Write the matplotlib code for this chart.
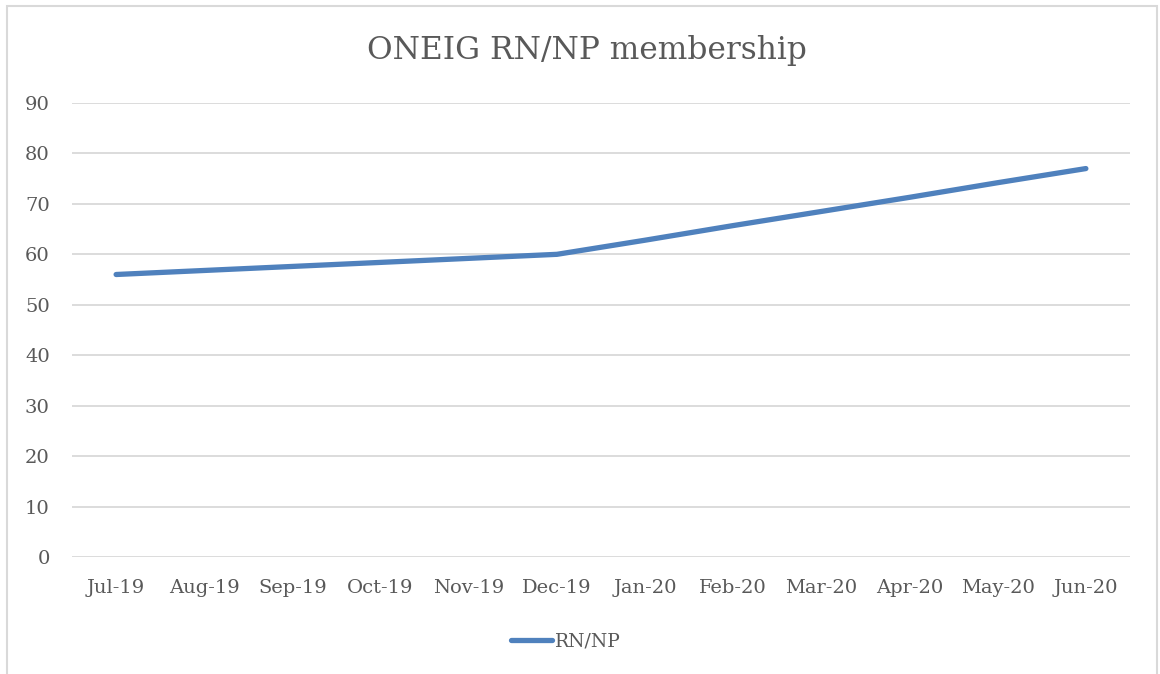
import matplotlib.pyplot as plt
from matplotlib.patches import Rectangle

# data
months = ['Jul-19', 'Aug-19', 'Sep-19', 'Oct-19', 'Nov-19', 'Dec-19',
          'Jan-20', 'Feb-20', 'Mar-20', 'Apr-20', 'May-20', 'Jun-20']
rn_np = [56, 56.8, 57.6, 58.4, 59.2, 60, 62.8, 65.7, 68.5, 71.3, 74.2, 77]
yticks = [0, 10, 20, 30, 40, 50, 60, 70, 80, 90]

txt = '#595959'
grid = '#d9d9d9'
blue = '#4f81bd'
plt.rcParams['font.family'] = ['DejaVu Serif']

fig = plt.figure(figsize=(11.6, 6.74), dpi=100)
ax = fig.add_axes([0.0621, 0.1736, 0.912, 0.6736])

x = range(len(months))
ax.plot(x, rn_np, color=blue, lw=3.8, solid_capstyle='round', label='RN/NP')

ax.set_xlim(-0.5, len(months) - 0.5)
ax.set_ylim(0, 90)
ax.set_yticks(yticks)
ax.set_xticks(list(x))
ax.set_xticklabels(months)
ax.tick_params(length=0, labelsize=14, colors=txt)
ax.tick_params(axis='y', pad=16)
ax.tick_params(axis='x', pad=16)
ax.grid(axis='y', color=grid, lw=1.3)
ax.set_axisbelow(True)
for s in ax.spines.values():
    s.set_visible(False)

fig.text(0.506, 0.925, 'ONEIG RN/NP membership', ha='center', va='center',
         fontsize=22.5, color=txt)

leg = ax.legend(loc='center', bbox_to_anchor=(0.467, -0.186), frameon=False,
                fontsize=13.5, handlelength=2.2, handletextpad=0.15)
for t in leg.get_texts():
    t.set_color(txt)

# chart border
fig.patches.append(Rectangle((7 / 1160, -0.05), 1150 / 1160, 1.05 - 6 / 674,
                             transform=fig.transFigure, fill=False,
                             edgecolor=grid, lw=1.5))

fig.savefig('out.png', dpi=100)
